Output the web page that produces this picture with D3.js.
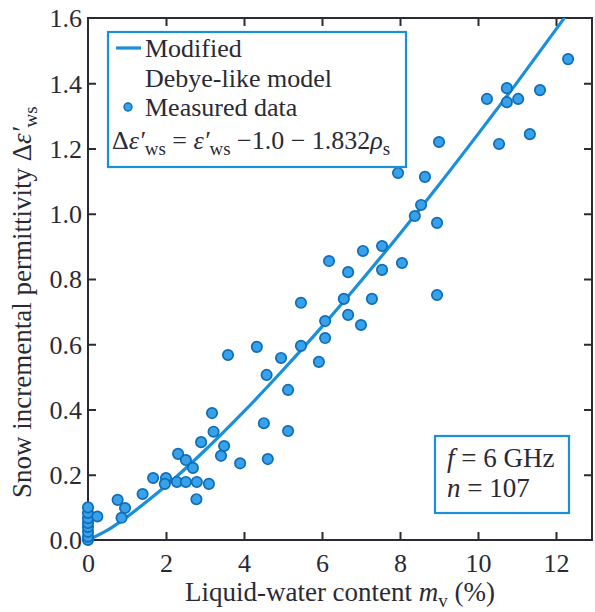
<!DOCTYPE html>
<html>
<head>
<meta charset="utf-8">
<script src="https://cdn.jsdelivr.net/npm/d3@7"></script>
<style>
  html, body { margin: 0; padding: 0; background: #fff; }
  svg { display: block; }
  svg text { font-family: "Liberation Serif", "DejaVu Serif", "Times New Roman", serif !important; fill: #2a2a35; }
</style>
</head>
<body>
<script>
// ---------- data ----------
const xTicks = [0, 2, 4, 6, 8, 10, 12];
const yTicks = [0.0, 0.2, 0.4, 0.6, 0.8, 1.0, 1.2, 1.4, 1.6];

// Modified Debye-like model curve (f = 6 GHz)
const modelMv  = [0, 0.5, 1, 1.5, 2, 3, 4, 5, 6, 7, 8, 9, 10, 11, 12, 12.5];
const modelEps = [0, 0.030, 0.071, 0.117, 0.166, 0.275, 0.394, 0.521, 0.654, 0.794, 0.939, 1.089, 1.244, 1.402, 1.565, 1.648];

// Measured data
const measMv = [
  0, 0, 0, 0, 0, 0, 0, 0,
  0.24, 0.76, 0.95, 0.86, 1.40,
  1.67, 2.00, 1.97, 2.28, 2.31, 2.51, 2.69, 2.51, 2.79, 2.78,
  3.10, 2.90, 3.18, 3.22, 3.49, 3.41, 3.90, 3.59,
  4.51, 4.61, 4.33, 4.58, 4.95, 5.13, 5.13,
  5.46, 5.46, 5.92, 6.08, 6.08, 6.18, 6.56, 6.67, 6.67,
  7.00, 7.05, 7.28, 7.54, 7.54, 8.05, 8.38, 8.54, 8.95, 8.95,
  7.95, 8.64, 9.00, 10.23, 10.74, 10.74, 11.03, 10.54, 11.33, 11.59, 12.31
];
const measEps = [
  0.000, 0.010, 0.025, 0.040, 0.052, 0.067, 0.083, 0.100,
  0.072, 0.123, 0.098, 0.068, 0.141,
  0.190, 0.190, 0.172, 0.178, 0.264, 0.245, 0.221, 0.178, 0.178, 0.125,
  0.172, 0.300, 0.389, 0.332, 0.288, 0.258, 0.235, 0.567,
  0.358, 0.248, 0.592, 0.506, 0.558, 0.460, 0.334,
  0.727, 0.595, 0.546, 0.619, 0.671, 0.855, 0.739, 0.821, 0.690,
  0.659, 0.886, 0.739, 0.901, 0.828, 0.849, 0.993, 1.027, 0.972, 0.751,
  1.125, 1.113, 1.220, 1.352, 1.385, 1.342, 1.352, 1.214, 1.244, 1.379, 1.474
];

// ---------- layout ----------
const W = 595, H = 612;
const L = 88, R = 592, T = 18, B = 540;
const blue = "#1a8fdc";
const dark = "#2a2a35";
const FT = 26;   // tick labels
const FL = 26;   // legend
const FA = 27;   // annotation / titles
const FF = '"Liberation Serif", "DejaVu Serif", "Times New Roman", serif';

const x = d3.scaleLinear().domain([0, (R - L) / 39]).range([L, R]);
const y = d3.scaleLinear().domain([0, 1.6]).range([B, T]);

const svg = d3.select("body").append("svg").attr("width", W).attr("height", H)
  .attr("font-family", FF);

svg.append("defs").append("clipPath").attr("id", "clip")
  .append("rect").attr("x", L).attr("y", T).attr("width", R - L).attr("height", B - T);

// ---------- axes ----------
const xAxis = d3.axisBottom(x).tickValues(xTicks).tickFormat(d3.format("d"))
  .tickSizeInner(-8).tickSizeOuter(0).tickPadding(14);
const gx = svg.append("g").attr("transform", `translate(0,${B})`).call(xAxis)
  .attr("font-family", FF);
gx.select(".domain").remove();
gx.selectAll(".tick line").attr("stroke", dark).attr("stroke-width", 2)
  .filter(d => d === 0).remove();
gx.selectAll(".tick text").attr("font-size", FT).attr("fill", dark);

const yAxis = d3.axisLeft(y).tickValues(yTicks).tickFormat(d3.format(".1f"))
  .tickSizeInner(-8).tickSizeOuter(0).tickPadding(6);
const gy = svg.append("g").attr("transform", `translate(${L},0)`).call(yAxis)
  .attr("font-family", FF);
gy.select(".domain").remove();
gy.selectAll(".tick line").attr("stroke", dark).attr("stroke-width", 2)
  .filter(d => d === 0 || d === 1.6).remove();
gy.selectAll(".tick text").attr("font-size", FT).attr("fill", dark)
  .attr("dy", "0.34em");

// top & right inward ticks
const xTop = d3.axisTop(x).tickValues(xTicks.filter(d => d > 0)).tickFormat("")
  .tickSizeInner(-8).tickSizeOuter(0);
const gt = svg.append("g").attr("transform", `translate(0,${T})`).call(xTop);
gt.select(".domain").remove();
gt.selectAll(".tick line").attr("stroke", dark).attr("stroke-width", 2);

const yRight = d3.axisRight(y).tickValues(yTicks.filter(d => d > 0 && d < 1.6)).tickFormat("")
  .tickSizeInner(-8).tickSizeOuter(0);
const gr = svg.append("g").attr("transform", `translate(${R},0)`).call(yRight);
gr.select(".domain").remove();
gr.selectAll(".tick line").attr("stroke", dark).attr("stroke-width", 2);

// frame
svg.append("rect").attr("x", L).attr("y", T).attr("width", R - L).attr("height", B - T)
  .attr("fill", "none").attr("stroke", dark).attr("stroke-width", 2);

// ---------- model curve ----------
const curveData = modelMv.map((m, i) => [m, modelEps[i]]);
svg.append("path").datum(curveData)
  .attr("clip-path", "url(#clip)")
  .attr("fill", "none").attr("stroke", blue).attr("stroke-width", 3.2)
  .attr("d", d3.line().x(d => x(d[0])).y(d => y(d[1])).curve(d3.curveMonotoneX));

// ---------- measured points ----------
const pts = measMv.map((m, i) => [m, measEps[i]]);
svg.append("g").selectAll("circle").data(pts).join("circle")
  .attr("cx", d => x(d[0])).attr("cy", d => y(d[1])).attr("r", 5.2)
  .attr("fill", "#37a2ea").attr("stroke", "#0f6cb6").attr("stroke-width", 1.7);

// ---------- legend box ----------
const lg = svg.append("g");
lg.append("rect").attr("x", 108).attr("y", 32).attr("width", 298).attr("height", 135)
  .attr("fill", "#fff").attr("stroke", blue).attr("stroke-width", 2.2);
lg.append("line").attr("x1", 116).attr("x2", 141).attr("y1", 48).attr("y2", 48)
  .attr("stroke", blue).attr("stroke-width", 3.2);
lg.append("text").attr("x", 145).attr("y", 57).attr("font-size", FL).text("Modified");
lg.append("text").attr("x", 145).attr("y", 87).attr("font-size", FL).text("Debye-like model");
lg.append("circle").attr("cx", 128).attr("cy", 107).attr("r", 4)
  .attr("fill", "#37a2ea").attr("stroke", "#0f6cb6").attr("stroke-width", 1.4);
lg.append("text").attr("x", 145).attr("y", 116).attr("font-size", FL).text("Measured data");

const eq = lg.append("text").attr("x", 112).attr("y", 149).attr("font-size", FL);
eq.append("tspan").text("Δ");
eq.append("tspan").attr("font-style", "italic").text("ε′");
eq.append("tspan").attr("dy", 6).attr("font-size", 19).text("ws");
eq.append("tspan").attr("dy", -6).text(" = ");
eq.append("tspan").attr("font-style", "italic").text("ε′");
eq.append("tspan").attr("dy", 6).attr("font-size", 19).text("ws");
eq.append("tspan").attr("dy", -6).text(" −1.0 − 1.832");
eq.append("tspan").attr("font-style", "italic").text("ρ");
eq.append("tspan").attr("dy", 6).attr("font-size", 19).text("s");

// ---------- annotation box ----------
const an = svg.append("g");
an.append("rect").attr("x", 435).attr("y", 436).attr("width", 134).attr("height", 77)
  .attr("fill", "#fff").attr("stroke", blue).attr("stroke-width", 2.2);
const t1 = an.append("text").attr("x", 447).attr("y", 467).attr("font-size", FA);
t1.append("tspan").attr("font-style", "italic").text("f");
t1.append("tspan").text(" = 6 GHz");
const t2 = an.append("text").attr("x", 447).attr("y", 497).attr("font-size", FA);
t2.append("tspan").attr("font-style", "italic").text("n");
t2.append("tspan").text(" = 107");

// ---------- axis titles ----------
const xt = svg.append("text").attr("x", 340).attr("y", 601).attr("text-anchor", "middle").attr("font-size", FA);
xt.append("tspan").text("Liquid-water content ");
xt.append("tspan").attr("font-style", "italic").text("m");
xt.append("tspan").attr("dy", 6).attr("font-size", 19).text("v");
xt.append("tspan").attr("dy", -6).text(" (%)");

const yt = svg.append("text").attr("transform", "translate(31,498) rotate(-90)")
  .attr("text-anchor", "start").attr("font-size", 27);
yt.append("tspan").text("Snow incremental permittivity Δ");
yt.append("tspan").attr("font-style", "italic").text("ε′");
yt.append("tspan").attr("dy", 6).attr("font-size", 19).text("ws");
</script>
</body>
</html>
